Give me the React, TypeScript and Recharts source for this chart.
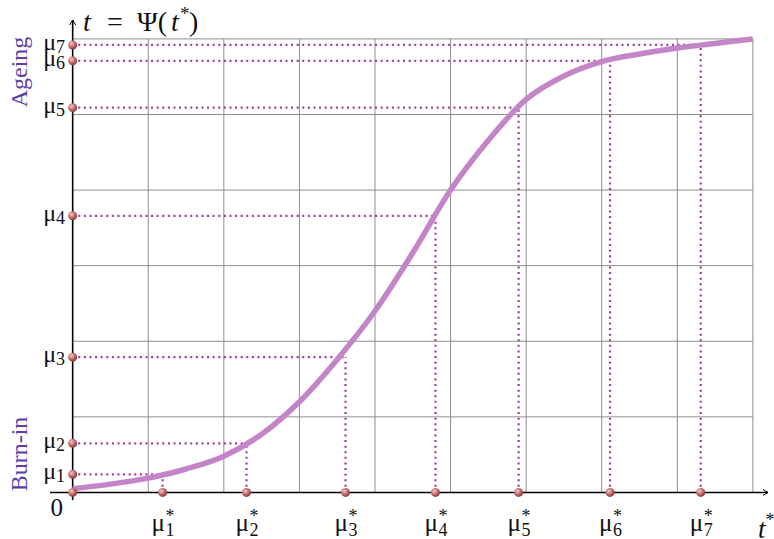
import { ComposedChart, Line, XAxis, YAxis, ReferenceLine, ReferenceDot } from "recharts";

// curve t = Psi(t*) (1 unit = 1 grid cell)
const curveT = [0, 0.5, 1, 1.5, 2, 2.5, 3, 3.5, 4, 4.5, 5, 5.5, 6, 6.5, 7, 7.5, 8, 8.5, 9];
const curvePsi = [0.05, 0.11, 0.19, 0.31, 0.48, 0.77, 1.2, 1.76, 2.4, 3.17, 4.0, 4.66, 5.2, 5.51, 5.7, 5.8, 5.88, 5.94, 6.0];

// quantiles: mu_i on the t axis, mu_i* on the t* axis
const muIndex = ["1", "2", "3", "4", "5", "6", "7"];
const mu = [0.24, 0.65, 1.79, 3.66, 5.09, 5.71, 5.92];
const muStar = [1.19, 2.3, 3.61, 4.8, 5.9, 7.11, 8.31];

const gridX = [1, 2, 3, 4, 5, 6, 7, 8, 9];
const gridY = [1, 2, 3, 4, 5, 6];

const data = curveT.map((t, i) => ({ t, psi: curvePsi[i] }));

const serif = { fontFamily: "'Liberation Serif', 'DejaVu Serif', serif" };
const DOT_COLOR = "#9a3f9c";
const GRID_COLOR = "#8e8e8e";
const SIDE_COLOR = "#5b3fa6";

function YTick(props: any) {
  const { x, y, payload } = props;
  if (payload.value === 0) {
    return (
      <text x={x + 13} y={y + 24} textAnchor="end" style={serif} fontSize={25} fill="#111">
        0
      </text>
    );
  }
  const i = mu.indexOf(payload.value);
  return (
    <text x={x + 15} y={y + 5} textAnchor="end" style={serif} fontSize={24} fill="#111">
      μ
      <tspan fontSize={18} dy={3}>{muIndex[i]}</tspan>
    </text>
  );
}

function XTick(props: any) {
  const { x, y, payload } = props;
  const i = muStar.indexOf(payload.value);
  // mu with the star stacked over the subscript, in one text element
  return (
    <text x={x - 11} y={y + 31} style={serif} fontSize={25} fill="#111">
      μ
      <tspan x={x + 3} dy={-9} fontSize={18}>*</tspan>
      <tspan x={x + 3} dy={14} fontSize={18}>{muIndex[i]}</tspan>
    </text>
  );
}

export default function App() {
  return (
    <div style={{ position: "absolute", left: 0, top: 0, background: "#fff" }}>
      <ComposedChart width={774} height={539} data={data} margin={{ top: 20, right: 6, bottom: 38, left: 49 }}>
        <defs>
          <radialGradient id="ball" cx="38%" cy="35%" r="65%">
            <stop offset="0%" stopColor="#f3caca" />
            <stop offset="55%" stopColor="#c26c6c" />
            <stop offset="100%" stopColor="#8a3a3a" />
          </radialGradient>
          <marker id="arrow" markerWidth={8} markerHeight={8} refX={6} refY={4} orient="auto" markerUnits="userSpaceOnUse">
            <path d="M1,1 L6,4 L1,7" fill="none" stroke="#000" strokeWidth={1} />
          </marker>
        </defs>
        <XAxis
          dataKey="t"
          type="number"
          domain={[-0.3, 9.2]}
          allowDataOverflow
          ticks={muStar}
          height={1}
          axisLine={false}
          tickLine={false}
          tickSize={0}
          tickMargin={0}
          tick={<XTick />}
          interval={0}
          label={{
            content: (p: any) => (
              <text x={p.viewBox.x + p.viewBox.width - 10} y={p.viewBox.y + 38} style={serif} fontSize={27} fontStyle="italic" fill="#111">
                t<tspan fontSize={18} fontStyle="normal" dy={-12}>*</tspan>
              </text>
            ),
          }}
        />
        <YAxis
          type="number"
          domain={[-0.1, 6.25]}
          allowDataOverflow
          ticks={[0, ...mu]}
          width={1}
          axisLine={false}
          tickLine={false}
          tickSize={0}
          tickMargin={0}
          tick={<YTick />}
          interval={0}
          label={{
            content: (p: any) => {
              const x0 = p.viewBox.x + 34;
              const y0 = p.viewBox.y + 11;
              return (
                <g style={serif}>
                  <text x={x0} y={y0} fontSize={28} fill="#111">
                    <tspan fontStyle="italic">t</tspan>
                    <tspan x={x0 + 24}>=</tspan>
                    <tspan x={x0 + 54}>Ψ(</tspan>
                    <tspan x={x0 + 88} fontStyle="italic">t</tspan>
                    <tspan x={x0 + 97} dy={-11} fontSize={19}>*</tspan>
                    <tspan x={x0 + 106} dy={11}>)</tspan>
                  </text>
                  <text transform={`translate(${p.viewBox.x - 22},${p.viewBox.y + 52}) rotate(-90)`} textAnchor="middle" fontSize={24} fill={SIDE_COLOR}>
                    Ageing
                  </text>
                  <text transform={`translate(${p.viewBox.x - 22},${p.viewBox.y + 434}) rotate(-90)`} textAnchor="middle" fontSize={24} fill={SIDE_COLOR}>
                    Burn-in
                  </text>
                </g>
              );
            },
          }}
        />

        {gridX.map((gx) => (
          <ReferenceLine key={"gx" + gx} segment={[{ x: gx, y: 0 }, { x: gx, y: 6 }]} stroke={GRID_COLOR} strokeWidth={1} ifOverflow="visible" />
        ))}
        {gridY.map((gy) => (
          <ReferenceLine key={"gy" + gy} segment={[{ x: 0, y: gy }, { x: 9, y: gy }]} stroke={GRID_COLOR} strokeWidth={1} ifOverflow="visible" />
        ))}

        <ReferenceLine segment={[{ x: -0.3, y: 0 }, { x: 9.2, y: 0 }]} stroke="#000" strokeWidth={1.6} markerEnd="url(#arrow)" ifOverflow="visible" />
        <ReferenceLine segment={[{ x: 0, y: -0.1 }, { x: 0, y: 6.25 }]} stroke="#000" strokeWidth={1.6} markerEnd="url(#arrow)" ifOverflow="visible" />

        {mu.map((m, i) => (
          <ReferenceLine
            key={"h" + i}
            segment={[{ x: 0, y: m }, { x: muStar[i], y: m }]}
            stroke={DOT_COLOR}
            strokeWidth={2.2}
            strokeDasharray="2 3.6"
            ifOverflow="visible"
          />
        ))}
        {mu.map((m, i) => (
          <ReferenceLine
            key={"v" + i}
            segment={[{ x: muStar[i], y: 0 }, { x: muStar[i], y: m }]}
            stroke={DOT_COLOR}
            strokeWidth={2.2}
            strokeDasharray="2 3.6"
            ifOverflow="visible"
          />
        ))}

        <Line
          type="monotone"
          dataKey="psi"
          stroke="#c484c8"
          strokeWidth={5.5}
          dot={false}
          activeDot={false}
          isAnimationActive={false}
        />

        <ReferenceDot x={0} y={0} r={4.5} fill="url(#ball)" stroke="none" ifOverflow="visible" />
        {mu.map((m, i) => (
          <ReferenceDot key={"dy" + i} x={0} y={m} r={4.5} fill="url(#ball)" stroke="none" ifOverflow="visible" />
        ))}
        {muStar.map((s, i) => (
          <ReferenceDot key={"dx" + i} x={s} y={0} r={4.5} fill="url(#ball)" stroke="none" ifOverflow="visible" />
        ))}
      </ComposedChart>
    </div>
  );
}
